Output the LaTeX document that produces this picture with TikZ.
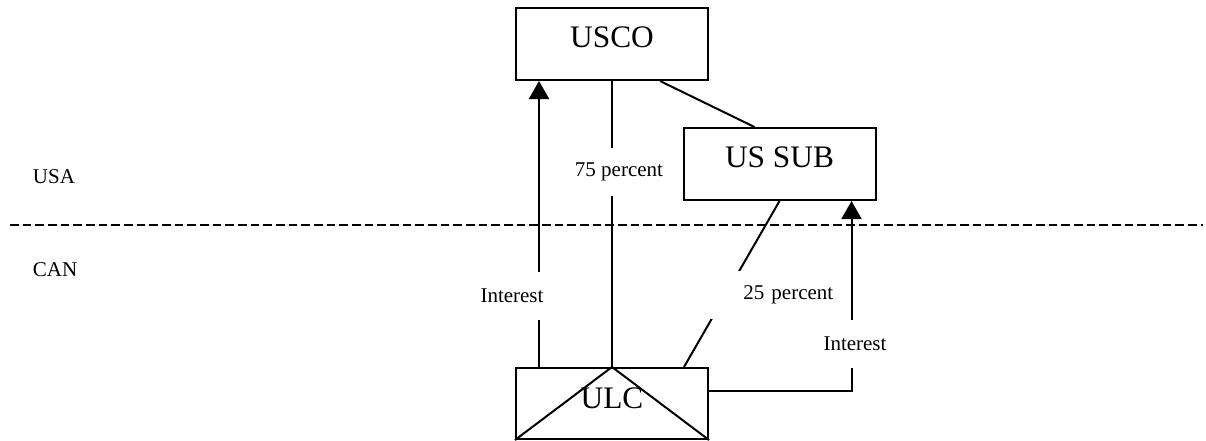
\documentclass[tikz,border=0pt]{standalone}
\usepackage{fontspec}
\setmainfont{Liberation Serif}
\usetikzlibrary{arrows.meta, positioning, calc}

\begin{document}
\begin{tikzpicture}[
        x=0.75pt, y=-0.75pt,
        % Entity boxes
        firm/.style={
            rectangle,
            draw,
            line width=1.5pt,
            minimum width=144pt,
            minimum height=54pt,
            inner sep=0pt,
            text depth=10.5pt,
            font=\fontsize{23.5}{28}\selectfont
        },
        hybrid/.style={firm, minimum height=53.25pt, text depth=7.5pt},
        % Labels
        lbl/.style={fill=white, inner sep=0pt, minimum height=36pt, font=\fontsize{15.75}{18}\selectfont},
        region/.style={inner sep=0pt, font=\fontsize{15.75}{18}\selectfont},
        % Lines
        own/.style={line width=1.5pt},
        payFlow/.style={-{Triangle[length=13.5pt, width=15pt]}, line width=1.5pt},
        border/.style={line width=1.5pt, dash pattern=on 6.5pt off 3pt}
    ]

    % --- FRAME ---
    \useasboundingbox (0,0) rectangle (1206,440);

    % --- NODES ---
    \node[firm]   (usco)  at (612, 44)    {USCO};
    \node[firm]   (ussub) at (779.5, 164) {US SUB};
    \node[hybrid] (ulc)   at (612, 403.5) {ULC};

    % --- BORDER ---
    \coordinate (bleft)  at (10, 225);
    \coordinate (bright) at (1203, 225);
    \draw[border] (bleft) -- (bright);
    \node[region] (usa) at (54, 177) {USA};
    \node[region] (can) at (55, 270) {CAN};

    % --- OWNERSHIP ---
    \draw[own] (usco.south) -- (ulc.north);
    \draw[own] ([xshift=-36.75pt]usco.south east) -- ([xshift=54pt]ussub.north west);
    \draw[own] (ussub.south) -- ([xshift=-18.75pt]ulc.north east);
    \draw[own] (ulc.south west) -- (ulc.north) -- (ulc.south east);

    % --- INTEREST PAYMENTS ---
    \draw[payFlow] ([xshift=18pt]ulc.north west) -- ([xshift=18pt]usco.south west);
    \draw[payFlow] ([yshift=9.4pt]ulc.east) -| ([xshift=-18.75pt]ussub.south east);

    % --- LABELS ---
    \node[lbl, inner xsep=4pt] (intL) at (512, 296) {Interest};
    \node[lbl] (pct75) at (619, 172) {75 percent};
    \node[lbl, anchor=west, text width=93.75pt, align=right] (pct25) at (708, 295) {25 percent};
    \node[lbl] (intR) at (855, 344) {Interest};

\end{tikzpicture}
\end{document}
